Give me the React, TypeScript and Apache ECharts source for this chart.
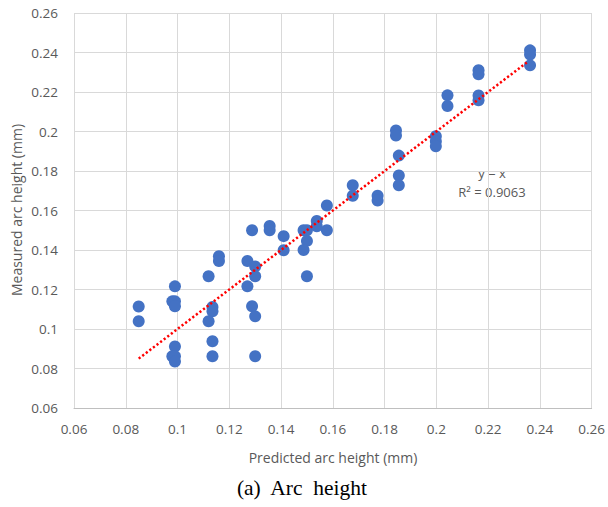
import React, { useEffect, useRef } from "react";
import * as echarts from "echarts";

const predicted = [
  0.085, 0.085, 0.098, 0.099, 0.099, 0.099, 0.099, 0.098, 0.099, 0.099,
  0.112, 0.1135, 0.1135, 0.112, 0.1135, 0.1135, 0.116, 0.116, 0.127, 0.127,
  0.1288, 0.130, 0.130, 0.1288, 0.130, 0.130, 0.1356, 0.1356, 0.141, 0.141,
  0.1487, 0.150, 0.150, 0.1487, 0.150, 0.1538, 0.1538, 0.1577, 0.1577, 0.1677,
  0.1677, 0.1773, 0.1773, 0.1844, 0.1844, 0.1855, 0.1855, 0.1855, 0.1998, 0.1998,
  0.1998, 0.2043, 0.2043, 0.2163, 0.2163, 0.2163, 0.2163, 0.2362, 0.2362, 0.2362,
];
const measured = [
  0.1114, 0.1039, 0.114, 0.114, 0.1115, 0.1216, 0.0912, 0.0862, 0.0862, 0.0835,
  0.1267, 0.1112, 0.109, 0.1039, 0.0938, 0.0862, 0.1368, 0.1344, 0.1344, 0.1216,
  0.150, 0.1317, 0.1267, 0.1115, 0.1064, 0.0862, 0.1522, 0.150, 0.147, 0.1399,
  0.150, 0.150, 0.1446, 0.140, 0.1267, 0.1547, 0.152, 0.1625, 0.150, 0.1728,
  0.1675, 0.1675, 0.165, 0.2005, 0.198, 0.1878, 0.1777, 0.1728, 0.1976, 0.195,
  0.1925, 0.2183, 0.2129, 0.231, 0.229, 0.2182, 0.2158, 0.2411, 0.239, 0.2335,
];
const trendX = [0.085, 0.235];
const axisTicks = { min: 0.06, max: 0.26, interval: 0.02 };
const xName = "Predicted arc height (mm)";
const yName = "Measured arc height (mm)";
const caption = "(a)  Arc  height";
const eqText = "y = x";
const r2Text = "R² = 0.9063";

export default function App() {
  const ref = useRef<HTMLDivElement>(null);
  useEffect(() => {
    if (!ref.current) return;
    const chart = echarts.init(ref.current, null, { renderer: "svg" });
    const fmt = (v: number) => String(+v.toFixed(2));
    const font = "'Open Sans', sans-serif";
    const gray = "#595959";
    const pts = predicted.map((x, i) => [x, measured[i]]);
    chart.setOption({
      animation: false,
      backgroundColor: "#ffffff",
      grid: { left: 74, top: 13, right: 15, bottom: 99 },
      xAxis: {
        type: "value",
        min: axisTicks.min,
        max: axisTicks.max,
        interval: axisTicks.interval,
        axisLine: { show: true, lineStyle: { color: "#bfbfbf", width: 1 } },
        axisTick: { show: false },
        splitLine: { show: true, lineStyle: { color: "#d9d9d9", width: 1 } },
        axisLabel: { formatter: fmt, color: gray, fontSize: 13.5, fontFamily: font, margin: 14 },
      },
      yAxis: {
        type: "value",
        min: axisTicks.min,
        max: axisTicks.max,
        interval: axisTicks.interval,
        axisLine: { show: false },
        axisTick: { show: false },
        splitLine: { show: true, lineStyle: { color: "#d9d9d9", width: 1 } },
        axisLabel: { formatter: fmt, color: gray, fontSize: 13.5, fontFamily: font, margin: 16 },
      },
      series: [
        {
          type: "scatter",
          data: pts,
          symbolSize: 12,
          itemStyle: { color: "#4472C4", opacity: 1 },
          z: 2,
        },
        {
          type: "line",
          data: trendX.map((x) => [x, x]),
          showSymbol: false,
          symbol: "none",
          lineStyle: { color: "#FF0000", width: 2.5, type: [2.2, 2.3] },
          z: 3,
        },
      ],
      graphic: [
        {
          type: "text",
          x: 333,
          y: 457,
          style: { text: xName, fill: gray, font: `14px ${font}`, textAlign: "center", textVerticalAlign: "middle" },
        },
        {
          type: "text",
          x: 16,
          y: 210,
          rotation: Math.PI / 2,
          style: { text: yName, fill: gray, font: `14px ${font}`, textAlign: "center", textVerticalAlign: "middle" },
        },
        {
          type: "text",
          x: 302,
          y: 488,
          style: { text: caption, fill: "#000000", font: `21.5px 'Liberation Serif', 'Times New Roman', serif`, textAlign: "center", textVerticalAlign: "middle" },
        },
        {
          type: "text",
          x: 492,
          y: 173,
          style: { text: eqText, fill: gray, font: `13px ${font}`, textAlign: "center", textVerticalAlign: "middle" },
        },
        {
          type: "text",
          x: 492,
          y: 192,
          style: { text: r2Text, fill: gray, font: `13px ${font}`, textAlign: "center", textVerticalAlign: "middle" },
        },
      ],
    });
    return () => chart.dispose();
  }, []);
  return (
    <div
      ref={ref}
      style={{ position: "fixed", left: 0, top: 0, width: 608, height: 507, background: "#fff" }}
    />
  );
}
